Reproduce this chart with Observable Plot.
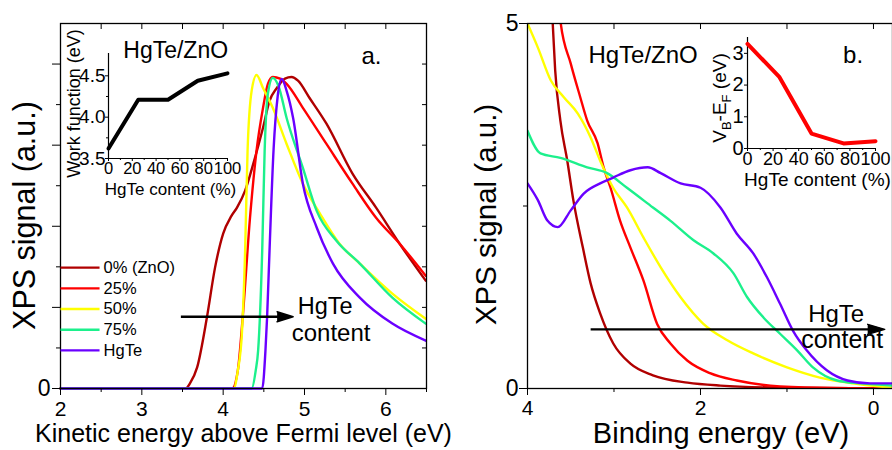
<!DOCTYPE html>
<html><head><meta charset="utf-8">
<script src="https://cdn.jsdelivr.net/npm/d3@7"></script>
<script src="https://cdn.jsdelivr.net/npm/@observablehq/plot@0.6"></script>
<style>
html,body{margin:0;padding:0;background:#fff;}
#root{position:relative;width:892px;height:450px;overflow:hidden;background:#fff;font-family:"Liberation Sans",Arial,sans-serif;}
#root svg{position:absolute;}
</style></head><body><div id="root"></div>
<script>
// ---------- data ----------
const seriesNames = ["0% (ZnO)", "25%", "50%", "75%", "HgTe"];
const seriesColors = ["#b00000", "#ff0000", "#ffff00", "#1cf08c", "#6a00ff"];

// panel a: XPS signal vs kinetic energy above Fermi level (eV)
const ke0 = [[2,0],[3.54,0],[3.59,0.12],[3.68,0.52],[3.80,1.75],[3.90,2.98],[4.00,3.82],[4.10,4.25],[4.17,4.46],[4.27,4.88],[4.37,5.54],[4.49,6.43],[4.57,7.09],[4.66,7.41],[4.76,7.64],[4.84,7.68],[4.92,7.59],[5.06,7.17],[5.27,6.53],[5.59,5.30],[5.88,4.46],[6.17,3.57],[6.49,2.66]];
const ke25 = [[2,0],[4.11,0],[4.18,0.44],[4.24,1.75],[4.33,4.21],[4.41,5.86],[4.49,6.92],[4.55,7.51],[4.61,7.68],[4.70,7.64],[4.78,7.51],[4.98,6.92],[5.27,6.03],[5.59,5.05],[5.88,4.21],[6.17,3.57],[6.49,2.78]];
const ke50 = [[2,0],[4.13,0],[4.18,0.44],[4.23,1.35],[4.27,3.4],[4.30,5.86],[4.35,7.34],[4.41,7.73],[4.49,7.41],[4.61,6.92],[4.78,6.03],[4.98,5.05],[5.19,4.31],[5.43,3.57],[5.68,3.08],[6.08,2.34],[6.49,1.72]];
const ke75 = [[2,0],[4.35,0],[4.40,0.44],[4.43,0.94],[4.48,3.4],[4.51,5.86],[4.55,7.27],[4.61,7.66],[4.68,7.46],[4.78,6.67],[4.98,5.44],[5.15,4.38],[5.39,3.65],[5.68,3.08],[6.08,2.24],[6.49,1.6]];
const ke100 = [[2,0],[4.48,0],[4.52,0.94],[4.54,1.75],[4.57,3.4],[4.62,5.9],[4.67,7.2],[4.72,7.63],[4.78,7.34],[4.86,6.67],[4.98,5.05],[5.15,3.97],[5.35,3.08],[5.68,2.24],[6.08,1.6],[6.49,1.18]];

// panel b: XPS signal vs binding energy (eV)
const be0 = [[3.74,5.6],[3.71,5.04],[3.68,4.36],[3.62,3.67],[3.54,3.12],[3.47,2.58],[3.36,1.93],[3.27,1.44],[3.16,1.03],[3.01,0.62],[2.81,0.34],[2.55,0.18],[2.15,0.08],[1.77,0.04],[1.00,0.01],[-0.22,0]];
const be25 = [[3.64,5.4],[3.62,5.04],[3.50,4.45],[3.39,3.99],[3.31,3.67],[3.19,3.36],[3.12,3.03],[3.04,2.75],[2.93,2.30],[2.81,1.93],[2.66,1.48],[2.50,0.88],[2.35,0.62],[2.15,0.38],[1.89,0.21],[1.58,0.11],[1.19,0.04],[0.62,0.01],[-0.22,0]];
const be50 = [[4.00,5.0],[3.88,4.67],[3.73,4.22],[3.58,3.99],[3.42,3.77],[3.27,3.44],[3.16,3.12],[3.01,2.75],[2.85,2.48],[2.66,2.07],[2.46,1.66],[2.23,1.25],[1.97,0.89],[1.69,0.66],[1.39,0.48],[1.00,0.29],[0.62,0.15],[0.24,0.07],[-0.22,0.01]];
const be75 = [[4.00,3.53],[3.85,3.22],[3.62,3.16],[3.31,3.03],[3.08,2.95],[2.85,2.75],[2.55,2.48],[2.35,2.30],[2.08,2.03],[1.85,1.85],[1.62,1.58],[1.46,1.25],[1.27,0.97],[1.08,0.75],[0.88,0.52],[0.70,0.29],[0.42,0.11],[0.15,0.07],[-0.22,0.04]];
const be100 = [[4.00,2.81],[3.88,2.58],[3.77,2.30],[3.65,2.21],[3.50,2.44],[3.35,2.67],[3.16,2.81],[3.01,2.89],[2.81,2.99],[2.61,3.03],[2.46,2.95],[2.23,2.81],[2.00,2.75],[1.77,2.48],[1.58,2.12],[1.39,1.85],[1.23,1.52],[1.08,1.16],[0.93,0.79],[0.77,0.52],[0.54,0.25],[0.30,0.11],[0.04,0.07],[-0.22,0.07]];

// insets
const hgteContent = [0, 25, 50, 75, 100];
const workFunction = [3.62, 4.21, 4.21, 4.44, 4.53];
const vbMinusEf = [3.30, 2.25, 0.47, 0.16, 0.23];

// ticks
const keMajor = [2, 3, 4, 5, 6];
const keMinor = [2.5, 3.5, 4.5, 5.5, 6.5];
const keTop = [2.5, 3, 3.5, 4, 4.5, 5, 5.5, 6, 6.5];
const sigAMajor = [0, 2, 4, 6, 8];
const sigAMinor = [1, 3, 5, 7];
const sigARight = [1, 2, 3, 4, 5, 6, 7, 8];
const beMajor = [4, 2, 0];
const beMinor = [3, 1];
const beTop = [3, 2, 1, 0];
const sigBMajor = [0, 5];
const sigBMinor = [2.5];
const wfTicks = [3.5, 4.0, 4.5];
const wfMinor = [3.75, 4.25];
const contentTicks = [0, 20, 40, 60, 80, 100];
const contentMinor = [10, 30, 50, 70, 90];
const vbTicks = [0, 1, 2, 3];

// annotations (data coordinates)
const arrowA = {x1: 3.48, x2: 4.86, y: 1.77};
const arrowB = {x1: 3.27, x2: -0.13, y: 0.81};

// ---------- helpers ----------
const FONT = '"Liberation Sans", Arial, sans-serif';
const root = document.getElementById("root");
const baseStyle = {fontFamily: FONT, background: "transparent", overflow: "visible", color: "black"};
function place(svg, left, top) { svg.style.left = left + "px"; svg.style.top = top + "px"; root.appendChild(svg); }
const tidy = (series) => series.flatMap((pts, i) => pts.map(([x, y]) => ({x, y, s: seriesNames[i]})));
const none = () => "";
const intFmt = d => String(d);
const legendRows = seriesNames.map((name, i) => ({name, y: 2.98 - i * 0.51}));
const label = (txt, opts) => Plot.text([txt], {text: d => d, textAnchor: "middle", lineAnchor: "middle", ...opts});

// ---------- panel a ----------
const plotA = Plot.plot({
  width: 446, height: 450,
  marginLeft: 60, marginRight: 20, marginTop: 23, marginBottom: 62,
  x: {domain: [2, 6.5]},
  y: {domain: [0, 9]},
  color: {domain: seriesNames, range: seriesColors},
  style: baseStyle,
  marks: [
    Plot.line(tidy([ke0, ke25, ke50, ke75, ke100]), {x: "x", y: "y", z: "s", stroke: "s", strokeWidth: 2.4, curve: "monotone-x"}),
    Plot.frame({stroke: "black", strokeWidth: 1.3}),
    Plot.axisY(sigAMajor, {tickSize: 8, tickPadding: 2, tickFormat: d => d === 0 ? "0" : "", fontSize: 23, label: null}),
    Plot.axisY(sigAMinor, {tickSize: 4, tickFormat: none, label: null}),
    Plot.axisY(sigARight, {anchor: "right", tickSize: -5, tickFormat: none, label: null}),
    Plot.axisX(keMajor, {tickSize: 7, tickPadding: 6, fontSize: 21, tickFormat: intFmt, label: null}),
    Plot.axisX(keMinor, {tickSize: 4, tickFormat: none, label: null}),
    Plot.axisX(keTop, {anchor: "top", tickSize: -5, tickFormat: none, label: null}),
    label("XPS signal (a.u.)", {frameAnchor: "left", rotate: -90, dx: -35, dy: 9.5, fontSize: 30.5}),
    label("Kinetic energy above Fermi level (eV)", {frameAnchor: "bottom", dy: 45, fontSize: 25}),
    // legend
    Plot.link(legendRows, {x1: () => 2.0, x2: () => 2.48, y1: "y", y2: "y", stroke: "name", strokeWidth: 2.4}),
    Plot.text(legendRows, {x: () => 2.53, y: "y", text: "name", textAnchor: "start", fontSize: 16.5}),
    // arrow
    Plot.link([arrowA], {x1: "x1", x2: d => d.x2 - 0.1, y1: "y", y2: "y", stroke: "black", strokeWidth: 2.4}),
    Plot.vector([arrowA], {x: "x2", y: "y", length: 16, rotate: 90, shape: "spike", r: 5, anchor: "end", fill: "black", stroke: "black"}),
    Plot.text(["HgTe"], {x: () => 4.917, y: () => 2.03, text: d => d, textAnchor: "start", fontSize: 23.5}),
    Plot.text(["content"], {x: () => 4.843, y: () => 1.37, text: d => d, textAnchor: "start", fontSize: 24}),
    Plot.text(["HgTe/ZnO"], {x: () => 2.772, y: () => 8.33, text: d => d, textAnchor: "start", fontSize: 23}),
    Plot.text(["a."], {x: () => 5.70, y: () => 8.19, text: d => d, textAnchor: "start", fontSize: 24})
  ]
});
place(plotA, 0, 0);

// ---------- panel b ----------
const plotB = Plot.plot({
  width: 446, height: 450,
  marginLeft: 81, marginRight: 0, marginTop: 23, marginBottom: 62,
  x: {domain: [4, -0.22]},
  y: {domain: [0, 5]},
  color: {domain: seriesNames, range: seriesColors},
  style: baseStyle,
  marks: [
    Plot.line(tidy([be0, be25, be50, be75, be100]), {x: "x", y: "y", z: "s", stroke: "s", strokeWidth: 2.4, curve: "monotone-x", clip: true}),
    Plot.frame({stroke: "black", strokeWidth: 1.3}),
    Plot.axisY(sigBMajor, {tickSize: 8, tickPadding: 1, fontSize: 23, tickFormat: intFmt, label: null}),
    Plot.axisY(sigBMinor, {tickSize: 4, tickFormat: none, label: null}),
    Plot.axisX(beMajor, {tickSize: 7, tickPadding: 5, fontSize: 21, tickFormat: intFmt, label: null}),
    Plot.axisX(beMinor, {tickSize: 4, tickFormat: none, label: null}),
    Plot.axisX(beTop, {anchor: "top", tickSize: -5, tickFormat: none, label: null}),
    label("XPS signal (a.u.)", {frameAnchor: "left", rotate: -90, dx: -41.4, dy: 8.5, fontSize: 29.5}),
    label("Binding energy (eV)", {frameAnchor: "bottom", dx: 11, dy: 45.5, fontSize: 29}),
    Plot.link([arrowB], {x1: "x1", x2: d => d.x2 + 0.1, y1: "y", y2: "y", stroke: "black", strokeWidth: 2.4}),
    Plot.vector([arrowB], {x: "x2", y: "y", length: 17, rotate: 90, shape: "spike", r: 5, anchor: "end", fill: "black", stroke: "black"}),
    Plot.text(["HgTe"], {x: () => 0.755, y: () => 1.01, text: d => d, textAnchor: "start", fontSize: 24}),
    Plot.text(["content"], {x: () => 0.836, y: () => 0.66, text: d => d, textAnchor: "start", fontSize: 25}),
    Plot.text(["HgTe/ZnO"], {x: () => 3.296, y: () => 4.56, text: d => d, textAnchor: "start", fontSize: 24}),
    Plot.text(["b."], {x: () => 0.351, y: () => 4.56, text: d => d, textAnchor: "start", fontSize: 24})
  ]
});
place(plotB, 446, 0);

// ---------- inset a: work function ----------
const wfRows = hgteContent.map((c, i) => ({c, v: workFunction[i]}));
const insetA = Plot.plot({
  width: 190, height: 170,
  marginLeft: 48, marginRight: 23, marginTop: 23, marginBottom: 42,
  x: {domain: [0, 100]},
  y: {domain: [3.5, 4.77]},
  style: baseStyle,
  marks: [
    Plot.ruleX([0], {stroke: "black", strokeWidth: 1.2}),
    Plot.ruleY([3.5], {stroke: "black", strokeWidth: 1.2}),
    Plot.axisY(wfTicks, {tickSize: 3, tickPadding: 0, tickFormat: d3.format(".1f"), fontSize: 19, label: null}),
    Plot.axisY(wfMinor, {tickSize: 2, tickFormat: none, label: null}),
    Plot.axisX(contentTicks, {tickSize: 3, tickPadding: 1, fontSize: 16.5, tickFormat: intFmt, label: null}),
    Plot.axisX(contentMinor, {tickSize: 2, tickFormat: none, label: null}),
    Plot.line(wfRows, {x: "c", y: "v", stroke: "black", strokeWidth: 4}),
    label("Work function (eV)", {frameAnchor: "left", rotate: -90, dx: -33.8, dy: -2.5, fontSize: 18}),
    label("HgTe content (%)", {frameAnchor: "bottom", dx: 2.5, dy: 31, fontSize: 17})
  ]
});
place(insetA, 60, 30);

// ---------- inset b: VB - EF ----------
const vbRows = hgteContent.map((c, i) => ({c, v: vbMinusEf[i]}));
const insetB = Plot.plot({
  width: 192, height: 180,
  marginLeft: 47, marginRight: 17, marginTop: 17, marginBottom: 52,
  x: {domain: [0, 100]},
  y: {domain: [0, 3.5]},
  style: baseStyle,
  marks: [
    Plot.ruleX([0], {stroke: "black", strokeWidth: 1.2}),
    Plot.ruleY([0], {stroke: "black", strokeWidth: 1.2}),
    Plot.axisY(vbTicks, {tickSize: 3, tickPadding: 1, fontSize: 20, tickFormat: intFmt, label: null}),
    Plot.axisX(contentTicks, {tickSize: 3, tickPadding: 1, fontSize: 18, tickFormat: intFmt, label: null}),
    Plot.axisX(contentMinor, {tickSize: 2, tickFormat: none, label: null}),
    Plot.line(vbRows, {x: "c", y: "v", stroke: "#ff0000", strokeWidth: 4}),
    label("HgTe content (%)", {frameAnchor: "bottom", dx: 6, dy: 31, fontSize: 19})
  ]
});
{
  const t = d3.select(insetB).append("text")
    .attr("transform", "translate(26,78) rotate(-90)")
    .attr("text-anchor", "middle")
    .attr("font-family", FONT)
    .attr("font-size", 19)
    .attr("fill", "black");
  t.append("tspan").text("V");
  t.append("tspan").attr("font-size", 13).attr("dy", 5).text("B");
  t.append("tspan").attr("dy", -5).text("-E");
  t.append("tspan").attr("font-size", 13).attr("dy", 5).text("F");
  t.append("tspan").attr("dy", -5).text(" (eV)");
}
place(insetB, 700, 20);
</script></body></html>
